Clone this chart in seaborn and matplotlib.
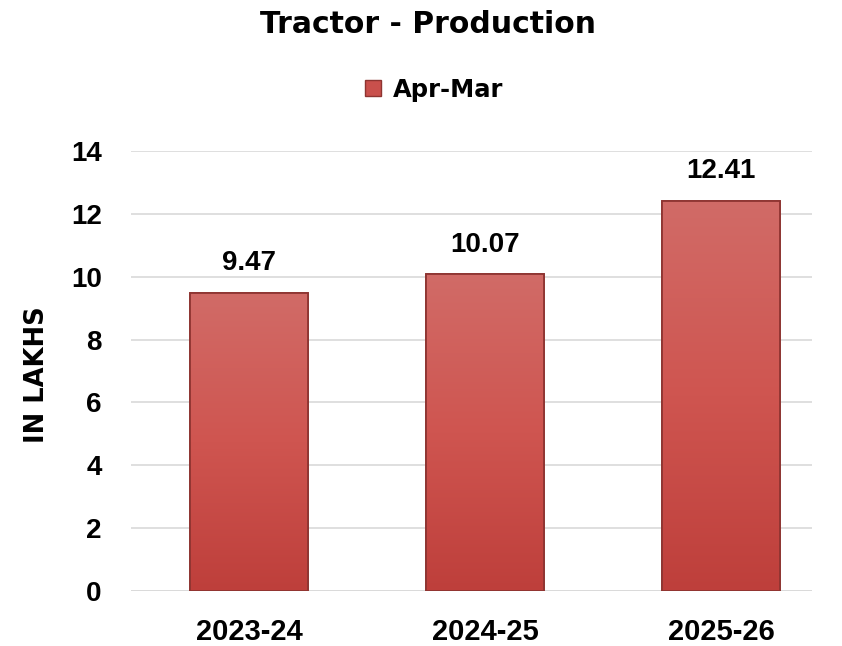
import numpy as np
import pandas as pd
import matplotlib
matplotlib.use("Agg")
import matplotlib.pyplot as plt
import seaborn as sns
from matplotlib.colors import LinearSegmentedColormap
from matplotlib.patches import Rectangle

categories = ["2023-24", "2024-25", "2025-26"]
values = [9.47, 10.07, 12.41]
series_name = "Apr-Mar"
yticks = [0, 2, 4, 6, 8, 10, 12, 14]

sns.set_theme(style="white")
plt.rcParams['font.family'] = ['Liberation Sans', 'DejaVu Sans']
plt.rcParams['text.color'] = 'black'
plt.rcParams['xtick.color'] = 'black'
plt.rcParams['ytick.color'] = 'black'
plt.rcParams['axes.labelcolor'] = 'black'

df = pd.DataFrame({"period": categories, "value": values})

fig = plt.figure(figsize=(8.42, 6.46), dpi=100)
ax = fig.add_axes([0.1556, 0.0851, 0.8088, 0.6812])

sns.barplot(data=df, x="period", y="value", color="#C9504C", width=0.5,
            ax=ax, zorder=2, edgecolor="#8E3431", linewidth=1.2)

ax.set_ylim(0, 14)
ax.set_xlim(-0.5, 2.386)
ax.set_yticks(yticks)
ax.set_yticklabels([str(t) for t in yticks], fontsize=20, fontweight="bold")
ax.set_xticklabels(categories, fontsize=21, fontweight="bold")
ax.tick_params(axis="x", length=0, pad=19.5)
ax.tick_params(axis="y", length=0, pad=21)
ax.yaxis.grid(True, color="#D9D9D9", linewidth=1.2, zorder=0)
ax.set_axisbelow(True)
for s in ax.spines.values():
    s.set_visible(False)
ax.axhline(0, color="#D9D9D9", linewidth=1.2, zorder=1)
ax.set_xlabel("")
ax.set_ylabel("")

cmap = LinearSegmentedColormap.from_list("g", ["#BE3F3B", "#CF5550", "#D16B67"])
grad = np.linspace(0, 1, 256).reshape(-1, 1)
for patch, v in zip(ax.patches, values):
    x0 = patch.get_x(); w = patch.get_width(); h = patch.get_height()
    im = ax.imshow(grad, extent=[x0, x0 + w, 0, h], origin="lower", cmap=cmap,
                   aspect="auto", zorder=3)
    im.set_clip_path(patch)
    ax.add_patch(Rectangle((x0, 0), w, h, fill=False, edgecolor="#8E3431",
                           linewidth=1.3, zorder=4))
    ax.text(x0 + w / 2, h + 0.73, f"{v:.2f}", ha="center", va="baseline",
            fontsize=20, fontweight="bold", zorder=5)
ax.set_xlim(-0.5, 2.386)
ax.set_ylim(0, 14)

fig.text(37 / 842, 1 - 375 / 646, "IN LAKHS", rotation=90, ha="center",
         va="center", fontsize=18.5, fontweight="bold", family="DejaVu Sans")

fig.text(0.508, 1 - 33 / 646, "Tractor - Production", ha="center", va="baseline",
         fontsize=21.5, fontweight="bold", family="DejaVu Sans")
lh = [Rectangle((0, 0), 1, 1, facecolor="#C9504C", edgecolor="#8E3431")]
fig.legend(lh, [series_name], loc="center", bbox_to_anchor=(0.516, 0.861),
           frameon=False, prop={"size": 17.5, "weight": "bold", "family": "DejaVu Sans"},
           handlelength=0.65, handleheight=0.65, handletextpad=0.5)

fig.savefig("out.png", dpi=100)
